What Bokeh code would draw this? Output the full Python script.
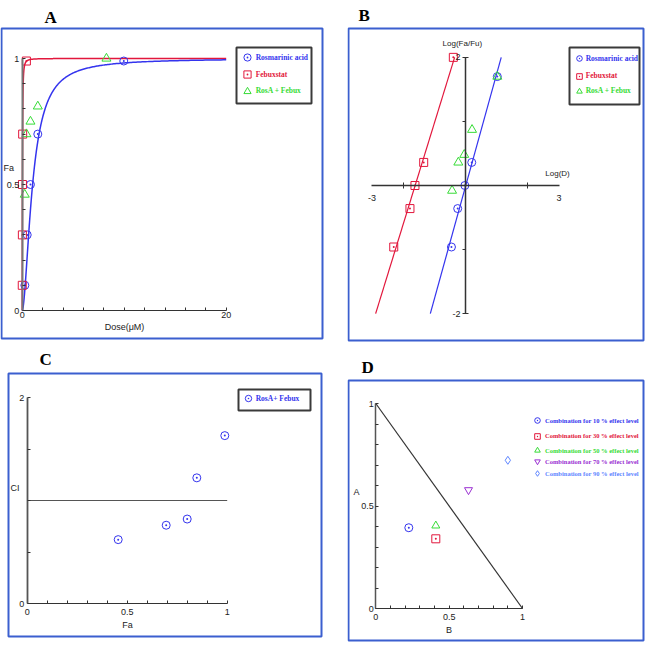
import numpy as np
from bokeh.plotting import figure
from bokeh.models import (LinearAxis, FixedTicker, Range1d, Legend, LegendItem,
                          BoxAnnotation, Label, CustomJSTickFormatter)
from bokeh.layouts import column, row
from bokeh.embed import file_html
from bokeh.resources import INLINE

# ---------------- data ----------------
series_names = ["Rosmarinic acid", "Febuxstat", "RosA + Febux"]

# A: dose-effect curves (dose in uM, fraction affected)
rosa_dose = [0.26, 0.49, 0.81, 1.53, 9.96]
rosa_fa = [0.10, 0.30, 0.50, 0.70, 0.99]
febux_dose = [0.005, 0.017, 0.024, 0.046, 0.41]
febux_fa = [0.10, 0.30, 0.50, 0.70, 0.99]
combo_dose = [0.25, 0.42, 0.81, 1.53, 8.26]
combo_fa = [0.46, 0.70, 0.75, 0.81, 1.00]
# median-effect fit parameters (Dm, m)
rosa_dm, rosa_m = 1.02, 1.76
febux_dm, febux_m = 0.0243, 1.58
dose_max = 20

# B: median-effect plot
rosa_logd = [-0.45, -0.25, -0.02, 0.20, 1.02]
rosa_logfa = [-0.96, -0.36, 0.00, 0.36, 1.70]
febux_logd = [-2.30, -1.78, -1.62, -1.34, -0.39]
febux_logfa = [-0.96, -0.36, 0.00, 0.36, 2.00]
combo_logd = [-0.43, -0.23, -0.04, 0.21, 1.02]
combo_logfa = [-0.08, 0.36, 0.48, 0.87, 1.70]
fit_logfa_extent = [-2, 2]

# C: combination index
ci_name = "RosA+ Febux"
ci_fa = [0.455, 0.695, 0.80, 0.848, 0.988]
ci_values = [0.62, 0.76, 0.82, 1.22, 1.63]
ci_ref_fa = [0, 1]
ci_ref_level = [1, 1]

# D: isobologram
iso_names = ["Combination for 10 % effect level", "Combination for 30 % effect level",
             "Combination for 50 % effect level", "Combination for 70 % effect level",
             "Combination for 90 % effect level"]
iso_b = [0.225, 0.409, 0.409, 0.632, 0.90]
iso_a = [0.394, 0.340, 0.404, 0.578, 0.723]
additive_b = [0, 1]
additive_a = [1, 0]

# ---------------- style ----------------
BLUE = "#3434ee"
RED = "#e2173c"
GREEN = "#36dc36"
PURPLE = "#9a2fd2"
LBLUE = "#5f86ff"
BORDER = "#3b5fcf"
AXIS = "#333333"
TICK_FONT = "Liberation Sans"
LEG_FONT = "Liberation Serif"


class Geo:
    """canvas size and the pixel <-> data mapping of one panel"""
    def __init__(self, w, h, x_left, sx, y_top, sy):
        self.w, self.h, self.x_left, self.sx, self.y_top, self.sy = w, h, x_left, sx, y_top, sy

    def x(self, px):
        return self.x_left + px / self.sx

    def y(self, py):
        return self.y_top - py / self.sy


def make_panel(g, box):
    p = figure(frame_width=g.w, frame_height=g.h,
               x_range=Range1d(g.x(0), g.x(g.w)), y_range=Range1d(g.y(g.h), g.y(0)),
               x_axis_type=None, y_axis_type=None, tools="", toolbar_location=None,
               output_backend="svg",
               min_border_left=0, min_border_right=0, min_border_top=0, min_border_bottom=0)
    p.outline_line_color = None
    p.background_fill_color = "white"
    p.border_fill_color = "white"
    l, r, t, b = box
    p.add_layout(BoxAnnotation(left=g.x(l), right=g.x(r), top=g.y(t), bottom=g.y(b),
                               fill_alpha=0, line_color=BORDER, line_width=2, line_alpha=1.0))
    return p


def add_axis(p, side, bounds, ticks, minor, tin, tout, min_in, min_out, standoff,
             label="", label_size="9px", label_standoff=2, line_color=AXIS, line_width=1.5):
    ax = LinearAxis(fixed_location=0, bounds=bounds,
                    ticker=FixedTicker(ticks=ticks, minor_ticks=minor),
                    formatter=CustomJSTickFormatter(code="return String(tick)"))
    ax.axis_line_color = line_color
    ax.axis_line_width = line_width
    ax.major_tick_line_color = AXIS
    ax.minor_tick_line_color = AXIS
    ax.major_tick_in, ax.major_tick_out = tin, tout
    ax.minor_tick_in, ax.minor_tick_out = min_in, min_out
    ax.major_label_standoff = standoff
    ax.major_label_text_font = TICK_FONT
    ax.major_label_text_font_size = "9px"
    ax.major_label_text_color = "#222222"
    if label:
        ax.axis_label = label
        ax.axis_label_text_font = TICK_FONT
        ax.axis_label_text_font_size = label_size
        ax.axis_label_text_font_style = "normal"
        ax.axis_label_text_color = "#222222"
        ax.axis_label_standoff = label_standoff
    p.add_layout(ax, side)
    return ax


def add_text(p, x, y, text, size="9px", align="left", baseline="middle"):
    p.add_layout(Label(x=x, y=y, text=text, text_font=TICK_FONT, text_font_size=size,
                       text_color="#222222", text_align=align, text_baseline=baseline))


def add_letter(p, g, text, px, py_baseline):
    p.add_layout(Label(x=g.x(px), y=g.y(py_baseline), text=text,
                       text_font=LEG_FONT, text_font_style="bold", text_font_size="17px",
                       text_color="black", text_baseline="alphabetic", text_align="left"))


def legend_frame(p, g, l, r, t, b):
    p.add_layout(BoxAnnotation(left=g.x(l), right=g.x(r), top=g.y(t), bottom=g.y(b),
                               fill_color="white", fill_alpha=1.0,
                               line_color="#3a3a3a", line_width=2, line_alpha=1.0))


def add_legend_rows(p, g, entries, glyph_cx, rows_cy, glyph, font_size, standoff=0):
    for (label, rend, color), cy in zip(entries, rows_cy):
        leg = Legend(items=[LegendItem(label=label, renderers=[rend])],
                     location=(glyph_cx - glyph / 2, g.h - cy - glyph / 2),
                     padding=0, margin=0, spacing=0,
                     glyph_width=glyph, glyph_height=glyph, label_height=glyph, label_width=10,
                     label_standoff=standoff,
                     label_text_font=LEG_FONT, label_text_font_style="bold",
                     label_text_font_size=font_size, label_text_color=color,
                     background_fill_alpha=0, border_line_color=None)
        p.add_layout(leg)


def median_effect(d, dm, m):
    d = np.asarray(d, dtype=float)
    out = np.zeros_like(d)
    nz = d > 0
    out[nz] = 1.0 / (1.0 + (dm / d[nz]) ** m)
    return out


minor_tenths = [round(0.1 * i, 1) for i in range(1, 10) if i != 5]

# ---------------- Panel A ----------------
gA = Geo(347, 345, -21.7 / 10.2, 10.2, 1 + 58 / 252, 252)
pA = make_panel(gA, (1, 322, 28, 338))
dose_grid = np.concatenate([[0.0], np.geomspace(1e-4, dose_max, 900)])
pA.line(dose_grid, median_effect(dose_grid, febux_dm, febux_m), line_color=RED, line_width=1.5)
pA.line(dose_grid, median_effect(dose_grid, rosa_dm, rosa_m), line_color=BLUE, line_width=1.5)
rA1 = pA.scatter(rosa_dose, rosa_fa, marker="circle_dot", size=8, line_color=BLUE, fill_alpha=0)
rA2 = pA.scatter(febux_dose, febux_fa, marker="square_dot", size=8, line_color=RED, fill_alpha=0)
rA3 = pA.scatter(combo_dose, combo_fa, marker="triangle", size=9, line_color=GREEN, fill_alpha=0)
add_axis(pA, "below", (0, dose_max), [0, dose_max], list(range(2, dose_max, 2)), 3, 0, 3, 0, 1,
         label="Dose(\u03bcM)", label_size="9px", label_standoff=1, line_width=1.2)
add_axis(pA, "left", (0, 1), [0, 0.5, 1], minor_tenths, 3, 0, 3, 0, 3,
         line_color="#777777", line_width=2)
add_text(pA, gA.x(3), 0.565, "Fa")
legend_frame(pA, gA, 236, 311, 47, 103)
add_legend_rows(pA, gA, [(series_names[0], rA1, BLUE), (series_names[1], rA2, RED),
                         (series_names[2], rA3, GREEN)],
                246.7, [57.3, 74, 90.7], 18, "7.5px")
add_letter(pA, gA, "A", 44, 17)

# ---------------- Panel B ----------------
gB = Geo(298, 345, -118 / 31.2, 31.2, 185 / 64.07, 64.07)
pB = make_panel(gB, (1, 296, 28, 340))
pB.line([np.log10(febux_dm) + y / febux_m for y in fit_logfa_extent], fit_logfa_extent,
        line_color=RED, line_width=1.2)
pB.line([np.log10(rosa_dm) + y / rosa_m for y in fit_logfa_extent], fit_logfa_extent,
        line_color=BLUE, line_width=1.2)
rB1 = pB.scatter(rosa_logd, rosa_logfa, marker="circle_dot", size=8, line_color=BLUE, fill_alpha=0)
rB2 = pB.scatter(febux_logd, febux_logfa, marker="square_dot", size=8, line_color=RED, fill_alpha=0)
rB3 = pB.scatter(combo_logd, combo_logfa, marker="triangle", size=9, line_color=GREEN, fill_alpha=0)
add_axis(pB, "below", (-3, 3), [-3, 3], [-2, 2], 0, 0, 3, 3, 6)
add_axis(pB, "left", (-2, 2), [-2, 2], [-1, 1], 3, 3, 0, 3, 2)
add_text(pB, 2.95, 0.11, "Log(D)", size="8px", align="center", baseline="bottom")
add_text(pB, -0.1, 2.14, "Log(Fa/Fu)", size="8px", align="center", baseline="bottom")
legend_frame(pB, gB, 222, 292, 47, 104)
add_legend_rows(pB, gB, [(series_names[0], rB1, BLUE), (series_names[1], rB2, RED),
                         (series_names[2], rB3, GREEN)],
                231.7, [58, 75.7, 90.7], 14, "7.5px")
add_letter(pB, gB, "B", 11, 15)

# ---------------- Panel C ----------------
gC = Geo(347, 297, -26.7 / 200, 200, 2 + 52 / 103, 103)
pC = make_panel(gC, (8, 321, 28, 291))
pC.line(ci_ref_fa, ci_ref_level, line_color="#555555", line_width=1)
rC = pC.scatter(ci_fa, ci_values, marker="circle_dot", size=8, line_color=BLUE, fill_alpha=0)
add_axis(pC, "below", (0, 1), [0, 0.5, 1], minor_tenths, 3, 0, 3, 0, 5,
         label="Fa", label_standoff=2, line_width=1.2)
add_axis(pC, "left", (0, 2), [0, 2], [0.5, 1, 1.5], 3, 0, 3, 0, 3,
         line_color="#555555", line_width=1.8)
add_text(pC, gC.x(10), 1.126, "CI")
legend_frame(pC, gC, 238, 310, 44, 65)
add_legend_rows(pC, gC, [(ci_name, rC, BLUE)], 247.7, [53], 16, "7.5px")
add_letter(pC, gC, "C", 39, 14)

# ---------------- Panel D ----------------
gD = Geo(298, 297, -28.3 / 146.7, 146.7, 1 + 58 / 205, 205)
pD = make_panel(gD, (1, 296, 35, 295))
pD.line(additive_b, additive_a, line_color="#333333", line_width=1.2)
iso_markers = ["circle_dot", "square_dot", "triangle", "inverted_triangle", "diamond"]
iso_colors = [BLUE, RED, GREEN, PURPLE, LBLUE]
rD = []
for i in range(len(iso_names)):
    rD.append(pD.scatter([iso_b[i]], [iso_a[i]], marker=iso_markers[i], size=8,
                         line_color=iso_colors[i], fill_alpha=0))
add_axis(pD, "below", (0, 1), [0, 0.5, 1], minor_tenths, 3, 0, 3, 0, 5,
         label="B", label_standoff=2, line_width=1.2)
add_axis(pD, "left", (0, 1), [0, 0.5, 1], minor_tenths, 3, 0, 3, 0, 2,
         line_color="#555555", line_width=1.5)
add_text(pD, gD.x(6), 0.567, "A")
add_legend_rows(pD, gD, [(iso_names[i], rD[i], iso_colors[i]) for i in range(len(iso_names))],
                190, [75, 90.7, 105, 116.4, 128.4], 14, "6.5px", standoff=1)
add_letter(pD, gD, "D", 14, 22)

layout = column(row(pA, pB), row(pC, pD))
open("out.html", "w").write(file_html(layout, INLINE))
